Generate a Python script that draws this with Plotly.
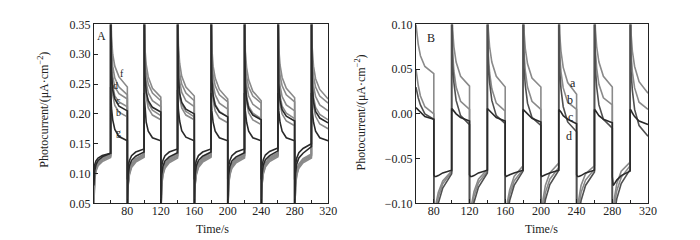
import plotly.graph_objects as go

# ---------------- data ----------------
# switching times (s) and sampling offsets within each 20 s half-period
SWITCH_A = [40, 60, 80, 100, 120, 140, 160, 180, 200, 220, 240, 260, 280, 300]
SWITCH_B = [60, 80, 100, 120, 140, 160, 180, 200, 220, 240, 260, 280, 300]
OFFSETS = [0, 1, 2.5, 5, 10, 20]

A_f = [[0.070,0.100,0.112,0.120,0.126,0.132],[0.420,0.330,0.300,0.280,0.262,0.245],
       [0.020,0.090,0.106,0.117,0.125,0.133],[0.420,0.310,0.283,0.262,0.243,0.228],
       [0.020,0.088,0.105,0.116,0.125,0.134],[0.420,0.315,0.285,0.263,0.245,0.230],
       [0.020,0.090,0.106,0.117,0.126,0.135],[0.420,0.310,0.280,0.260,0.241,0.225],
       [0.020,0.088,0.105,0.116,0.125,0.134],[0.420,0.305,0.278,0.257,0.238,0.222],
       [0.020,0.090,0.107,0.118,0.127,0.135],[0.420,0.310,0.282,0.261,0.243,0.227],
       [0.020,0.088,0.105,0.116,0.125,0.133],[0.420,0.310,0.280,0.259,0.241,0.225]]
A_e = [[0.060,0.098,0.110,0.118,0.125,0.131],[0.420,0.310,0.280,0.260,0.245,0.232],
       [0.020,0.086,0.104,0.115,0.124,0.132],[0.420,0.295,0.268,0.250,0.235,0.222],
       [0.020,0.085,0.103,0.114,0.123,0.131],[0.420,0.295,0.268,0.250,0.235,0.222],
       [0.020,0.086,0.104,0.115,0.124,0.132],[0.420,0.290,0.265,0.247,0.232,0.220],
       [0.020,0.085,0.103,0.114,0.123,0.131],[0.420,0.290,0.263,0.245,0.230,0.218],
       [0.020,0.087,0.105,0.116,0.125,0.133],[0.420,0.290,0.265,0.247,0.232,0.220],
       [0.020,0.085,0.103,0.114,0.123,0.131],[0.420,0.290,0.263,0.245,0.230,0.218]]
A_d = [[0.055,0.095,0.108,0.117,0.124,0.130],[0.420,0.290,0.263,0.245,0.234,0.225],
       [0.020,0.084,0.102,0.114,0.123,0.131],[0.420,0.280,0.253,0.235,0.222,0.212],
       [0.020,0.083,0.101,0.113,0.122,0.130],[0.420,0.280,0.254,0.236,0.222,0.212],
       [0.020,0.084,0.102,0.114,0.123,0.131],[0.420,0.278,0.250,0.232,0.218,0.208],
       [0.020,0.083,0.101,0.113,0.122,0.130],[0.420,0.275,0.248,0.230,0.216,0.206],
       [0.020,0.085,0.103,0.115,0.124,0.132],[0.420,0.275,0.247,0.229,0.215,0.205],
       [0.020,0.083,0.101,0.113,0.122,0.130],[0.420,0.275,0.247,0.229,0.215,0.205]]
A_c = [[0.080,0.105,0.115,0.122,0.128,0.134],[0.420,0.270,0.240,0.225,0.213,0.205],
       [0.030,0.098,0.113,0.122,0.129,0.136],[0.420,0.265,0.237,0.222,0.211,0.203],
       [0.030,0.097,0.112,0.121,0.128,0.135],[0.420,0.262,0.234,0.219,0.208,0.200],
       [0.030,0.098,0.113,0.122,0.129,0.136],[0.420,0.258,0.230,0.214,0.203,0.195],
       [0.030,0.097,0.112,0.121,0.128,0.135],[0.420,0.252,0.225,0.209,0.198,0.190],
       [0.030,0.099,0.114,0.123,0.130,0.138],[0.420,0.250,0.223,0.207,0.196,0.188],
       [0.030,0.100,0.116,0.126,0.134,0.145],[0.420,0.248,0.220,0.204,0.193,0.185]]
A_b = [[0.050,0.092,0.106,0.115,0.122,0.129],[0.420,0.275,0.248,0.230,0.220,0.212],
       [0.020,0.082,0.100,0.112,0.121,0.129],[0.420,0.262,0.235,0.218,0.206,0.197],
       [0.020,0.081,0.099,0.111,0.120,0.128],[0.420,0.260,0.233,0.216,0.204,0.195],
       [0.020,0.082,0.100,0.112,0.121,0.129],[0.420,0.260,0.233,0.216,0.204,0.195],
       [0.020,0.081,0.099,0.111,0.120,0.128],[0.420,0.257,0.230,0.213,0.201,0.192],
       [0.020,0.083,0.101,0.113,0.122,0.130],[0.420,0.257,0.230,0.213,0.201,0.192],
       [0.020,0.081,0.099,0.111,0.120,0.128],[0.420,0.255,0.228,0.211,0.199,0.190]]
A_a = [[0.045,0.090,0.104,0.113,0.120,0.127],[0.420,0.260,0.232,0.214,0.203,0.195],
       [0.020,0.080,0.098,0.110,0.119,0.127],[0.420,0.255,0.228,0.210,0.198,0.190],
       [0.020,0.079,0.097,0.109,0.118,0.126],[0.420,0.255,0.228,0.210,0.198,0.190],
       [0.020,0.080,0.098,0.110,0.119,0.127],[0.420,0.250,0.222,0.205,0.193,0.185],
       [0.020,0.079,0.097,0.109,0.118,0.126],[0.420,0.246,0.219,0.202,0.190,0.182],
       [0.020,0.081,0.099,0.111,0.120,0.128],[0.420,0.244,0.217,0.200,0.188,0.180],
       [0.020,0.079,0.097,0.109,0.118,0.126],[0.420,0.240,0.213,0.196,0.183,0.175]]
A_g = [[0.100,0.115,0.121,0.126,0.130,0.134],[0.245,0.210,0.190,0.174,0.162,0.155],
       [0.090,0.112,0.122,0.130,0.136,0.141],[0.235,0.205,0.186,0.171,0.160,0.155],
       [0.090,0.112,0.122,0.130,0.136,0.141],[0.240,0.207,0.188,0.172,0.161,0.155],
       [0.090,0.112,0.122,0.130,0.136,0.141],[0.235,0.205,0.186,0.171,0.160,0.155],
       [0.090,0.112,0.122,0.130,0.136,0.141],[0.235,0.205,0.186,0.171,0.160,0.155],
       [0.090,0.113,0.123,0.131,0.137,0.143],[0.235,0.205,0.186,0.171,0.160,0.155],
       [0.090,0.115,0.126,0.135,0.142,0.150],[0.235,0.205,0.186,0.171,0.160,0.155]]

B_a = [[0.100,0.090,0.078,0.065,0.053,0.045],[-0.160,-0.115,-0.100,-0.088,-0.075,-0.064],
       [0.160,0.095,0.075,0.058,0.042,0.031],[-0.160,-0.118,-0.100,-0.087,-0.073,-0.062],
       [0.160,0.095,0.075,0.058,0.042,0.030],[-0.160,-0.115,-0.098,-0.085,-0.070,-0.058],
       [0.160,0.093,0.073,0.056,0.040,0.030],[-0.160,-0.112,-0.095,-0.080,-0.066,-0.055],
       [0.160,0.090,0.070,0.052,0.035,0.022],[-0.160,-0.110,-0.095,-0.080,-0.067,-0.058],
       [0.160,0.095,0.075,0.058,0.042,0.030],[-0.160,-0.110,-0.093,-0.078,-0.064,-0.054],
       [0.160,0.090,0.070,0.053,0.036,0.023]]
B_b = [[0.050,0.042,0.032,0.020,0.008,0.000],[-0.160,-0.125,-0.108,-0.093,-0.078,-0.065],
       [0.160,0.070,0.048,0.030,0.014,0.005],[-0.160,-0.125,-0.107,-0.092,-0.077,-0.064],
       [0.160,0.068,0.046,0.028,0.012,0.003],[-0.160,-0.122,-0.105,-0.090,-0.075,-0.062],
       [0.160,0.070,0.048,0.030,0.014,0.005],[-0.160,-0.120,-0.103,-0.088,-0.073,-0.060],
       [0.160,0.068,0.047,0.029,0.013,0.005],[-0.160,-0.120,-0.103,-0.088,-0.074,-0.062],
       [0.160,0.072,0.051,0.033,0.018,0.010],[-0.160,-0.118,-0.100,-0.086,-0.071,-0.058],
       [0.160,0.068,0.047,0.029,0.013,0.005]]
B_c = [[0.007,0.006,0.004,0.001,-0.003,-0.006],[-0.068,-0.070,-0.070,-0.069,-0.066,-0.063],
       [0.006,0.005,0.003,0.000,-0.004,-0.008],[-0.068,-0.070,-0.070,-0.069,-0.066,-0.063],
       [0.006,0.005,0.003,0.000,-0.004,-0.008],[-0.068,-0.070,-0.069,-0.068,-0.066,-0.063],
       [0.005,0.004,0.002,-0.001,-0.005,-0.009],[-0.068,-0.070,-0.069,-0.068,-0.066,-0.063],
       [0.005,0.004,0.002,-0.002,-0.006,-0.011],[-0.068,-0.070,-0.070,-0.069,-0.066,-0.063],
       [0.005,0.004,0.002,-0.002,-0.006,-0.010],[-0.070,-0.080,-0.078,-0.074,-0.069,-0.064],
       [0.005,0.004,0.001,-0.003,-0.008,-0.012]]
B_d = [[0.030,0.025,0.018,0.010,0.000,-0.006],[-0.160,-0.130,-0.115,-0.100,-0.083,-0.067],
       [0.160,0.055,0.035,0.015,-0.002,-0.012],[-0.160,-0.130,-0.114,-0.099,-0.082,-0.066],
       [0.160,0.055,0.035,0.015,-0.002,-0.011],[-0.160,-0.128,-0.112,-0.097,-0.080,-0.064],
       [0.160,0.052,0.032,0.012,-0.004,-0.013],[-0.160,-0.127,-0.111,-0.096,-0.079,-0.063],
       [0.160,0.050,0.028,0.008,-0.009,-0.020],[-0.160,-0.128,-0.112,-0.097,-0.080,-0.065],
       [0.160,0.052,0.030,0.010,-0.006,-0.016],[-0.160,-0.126,-0.110,-0.095,-0.078,-0.062],
       [0.160,0.048,0.026,0.005,-0.013,-0.025]]

X_TICKS = [80, 120, 160, 200, 240, 280, 320]
X_MINOR = [60, 100, 140, 180, 220, 260, 300]
YA_TICKS = [0.05, 0.10, 0.15, 0.20, 0.25, 0.30, 0.35]
YA_LABELS = ["0.05", "0.10", "0.15", "0.20", "0.25", "0.30", "0.35"]
YB_TICKS = [-0.10, -0.05, 0.0, 0.05, 0.10]
YB_LABELS = ["\u22120.10", "\u22120.05", "0.00", "0.05", "0.10"]

GRAY = "#8a8a8a"
DARK = "#2a2a2a"
MID = "#505050"

# ---------------- figure ----------------
def times(switch):
    return [s + o for s in switch for o in OFFSETS]

def flat(segs):
    return [v for seg in segs for v in seg]

tA = times(SWITCH_A)
tB = times(SWITCH_B)

fig = go.Figure()
for segs, col in [(A_f, GRAY), (A_e, GRAY), (A_d, GRAY), (A_b, GRAY), (A_a, GRAY), (A_c, DARK), (A_g, DARK)]:
    fig.add_trace(go.Scatter(x=tA, y=flat(segs), mode="lines", line=dict(color=col, width=1.6),
                             xaxis="x", yaxis="y", showlegend=False, hoverinfo="skip"))
for segs, col in [(B_a, GRAY), (B_b, GRAY), (B_d, MID), (B_c, DARK)]:
    fig.add_trace(go.Scatter(x=tB, y=flat(segs), mode="lines", line=dict(color=col, width=1.6),
                             xaxis="x2", yaxis="y2", showlegend=False, hoverinfo="skip"))

FONT = "Liberation Serif, Times New Roman, serif"
axis_common = dict(showline=True, linecolor="#222", linewidth=1.2, mirror=True,
                   ticks="inside", ticklen=4, tickcolor="#222", showgrid=False, zeroline=False,
                   tickfont=dict(family=FONT, size=12, color="#222"))

fig.update_layout(
    width=700, height=240, margin=dict(l=0, r=0, t=0, b=0),
    paper_bgcolor="white", plot_bgcolor="white",
    font=dict(family=FONT, size=12, color="#222"),
    xaxis=dict(domain=[0.1243, 0.4633], range=[40, 320], anchor="y", tickvals=X_TICKS,
               ticklabelstandoff=-4,
               minor=dict(tickvals=X_MINOR, ticks="inside", ticklen=3, tickcolor="#222"), **axis_common),
    yaxis=dict(domain=[0.1667, 0.9583], range=[0.05, 0.35], anchor="x", tickvals=YA_TICKS,
               ticktext=YA_LABELS, **axis_common),
    xaxis2=dict(domain=[0.5904, 0.9262], range=[60, 320], anchor="y2", tickvals=X_TICKS,
                ticklabelstandoff=-4,
                minor=dict(tickvals=X_MINOR, ticks="inside", ticklen=3, tickcolor="#222"), **axis_common),
    yaxis2=dict(domain=[0.1667, 0.9583], range=[-0.10, 0.10], anchor="x2", tickvals=YB_TICKS,
                ticktext=YB_LABELS, **axis_common),
)

ytitle = "Photocurrent/(\u03bcA\u00b7cm<sup>\u22122</sup>)"
C = dict(xanchor="center", yanchor="middle", showarrow=False)
ann = [
    dict(text=ytitle, x=36 / 700, y=1 - 101 / 240, xref="paper", yref="paper", textangle=-90,
         font=dict(size=12), **C),
    dict(text=ytitle, x=358 / 700, y=1 - 103 / 240, xref="paper", yref="paper", textangle=-90,
         font=dict(size=12), **C),
    dict(text="Time/s", x=207 / 700, y=1 - 227 / 240, xref="paper", yref="paper", font=dict(size=12), **C),
    dict(text="Time/s", x=540 / 700, y=1 - 227 / 240, xref="paper", yref="paper", font=dict(size=12), **C),
    dict(text="A", x=49.5, y=0.330, xref="x", yref="y", font=dict(size=12), **C),
    dict(text="B", x=77, y=0.085, xref="x2", yref="y2", font=dict(size=12), **C),
]
for lab, t, v in [("f", 73, 0.268), ("d", 66, 0.247), ("c", 69, 0.223), ("b", 69, 0.203), ("g", 69, 0.168)]:
    ann.append(dict(text=lab, x=t, y=v, xref="x", yref="y", font=dict(size=10), **C))
for lab, t, v in [("a", 236.5, 0.034), ("b", 233, 0.015), ("c", 233, -0.003), ("d", 232, -0.025)]:
    ann.append(dict(text=lab, x=t, y=v, xref="x2", yref="y2", font=dict(size=12), **C))
fig.update_layout(annotations=ann)

fig.write_html("out.html")
